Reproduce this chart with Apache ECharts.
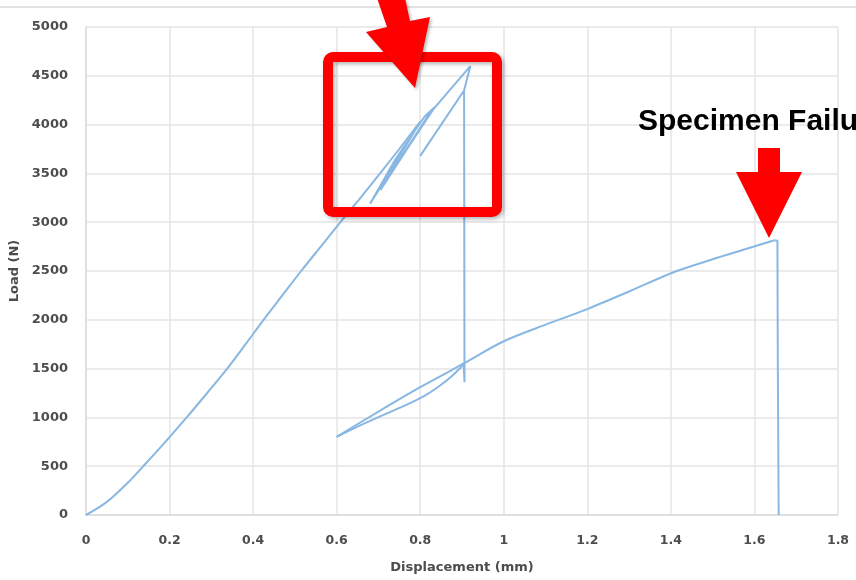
<!DOCTYPE html>
<html>
<head>
<meta charset="utf-8">
<script src="https://cdn.jsdelivr.net/npm/echarts@6/dist/echarts.min.js"></script>
<style>
html,body{margin:0;padding:0;background:#fff;}
#chart{width:856px;height:580px;}
</style>
</head>
<body>
<div id="chart"></div>
<script>
// Test record split into consecutive segments: displacement (mm) / load (N)
// 1. initial loading
var loadingDisp = [0, 0.03, 0.06, 0.10, 0.137, 0.19, 0.241, 0.29, 0.338, 0.382, 0.425, 0.47, 0.515, 0.562, 0.609, 0.655, 0.70, 0.75, 0.80];
var loadingLoad = [0, 75, 170, 330, 500, 750, 1000, 1250, 1500, 1750, 2000, 2250, 2500, 2750, 3000, 3240, 3480, 3750, 4030];
// 2. unload/reload cycles, peak and first failure drop
var cycleDisp = [0.80, 0.74, 0.68, 0.74, 0.81, 0.835, 0.77, 0.705, 0.76, 0.82, 0.87, 0.92, 0.923, 0.905, 0.80, 0.905, 0.906, 0.904];
var cycleLoad = [4030, 3600, 3190, 3640, 4080, 4180, 3760, 3330, 3700, 4100, 4350, 4600, 4590, 4350, 3680, 4350, 1360, 1545];
// 3. unloading after the drop
var unloadDisp = [0.904, 0.88, 0.85, 0.808, 0.76, 0.712, 0.65, 0.60];
var unloadLoad = [1545, 1440, 1335, 1215, 1115, 1025, 905, 800];
// 4. reloading up to final failure
var reloadDisp = [0.60, 0.70, 0.80, 0.873, 0.905, 1.0, 1.1, 1.2, 1.3, 1.408, 1.5, 1.568, 1.648];
var reloadLoad = [800, 1060, 1310, 1480, 1555, 1780, 1950, 2110, 2290, 2490, 2620, 2710, 2815];
// 5. specimen failure
var failDisp = [1.648, 1.655, 1.656, 1.658];
var failLoad = [2815, 2810, 1500, 0];

var xTicks = [0, 0.2, 0.4, 0.6, 0.8, 1, 1.2, 1.4, 1.6, 1.8];
var yTicks = [0, 500, 1000, 1500, 2000, 2500, 3000, 3500, 4000, 4500, 5000];
var xLabel = 'Displacement (mm)';
var yLabel = 'Load (N)';
var annotation = 'Specimen Failure';

function pairs(xs, ys) { return xs.map(function (d, i) { return [d, ys[i]]; }); }
var segments = [
  {d: pairs(loadingDisp, loadingLoad), smooth: 0.3},
  {d: pairs(cycleDisp, cycleLoad), smooth: false},
  {d: pairs(unloadDisp, unloadLoad), smooth: 0.3},
  {d: pairs(reloadDisp, reloadLoad), smooth: 0.3},
  {d: pairs(failDisp, failLoad), smooth: false}
];

var chart = echarts.init(document.getElementById('chart'), null, {renderer: 'canvas'});
var labelFont = {fontFamily: 'DejaVu Sans', fontWeight: 'bold', color: '#4d4d4d'};
chart.setOption({
  animation: false,
  backgroundColor: '#ffffff',
  grid: {left: 86, right: 18, top: 27, bottom: 65, containLabel: false, outerBoundsMode: 'none'},
  xAxis: {
    type: 'value', min: xTicks[0], max: xTicks[xTicks.length - 1], interval: 0.2,
    name: xLabel, nameLocation: 'middle', nameGap: 46,
    nameTextStyle: Object.assign({fontSize: 13}, labelFont),
    axisLine: {show: true, lineStyle: {color: '#dcdcdc', width: 1.5}},
    axisTick: {show: false},
    axisLabel: Object.assign({fontSize: 12.5, margin: 19, formatter: function (v) { return String(Math.round(v * 10) / 10); }}, labelFont),
    splitLine: {show: true, lineStyle: {color: '#e4e4e4', width: 1.5}}
  },
  yAxis: {
    type: 'value', min: yTicks[0], max: yTicks[yTicks.length - 1], interval: 500,
    name: yLabel, nameLocation: 'middle', nameGap: 64,
    nameTextStyle: Object.assign({fontSize: 13}, labelFont),
    axisLine: {show: true, lineStyle: {color: '#dcdcdc', width: 1.5}},
    axisTick: {show: false},
    axisLabel: Object.assign({fontSize: 13, margin: 18, formatter: function (v) { return String(v); }}, labelFont),
    splitLine: {show: true, lineStyle: {color: '#e4e4e4', width: 1.5}}
  },
  series: segments.map(function (s) {
    return {
      type: 'line', data: s.d, symbol: 'none', smooth: s.smooth,
      lineStyle: {color: '#88b7e3', width: 2}
    };
  }),
  graphic: [
    {type: 'line', shape: {x1: 0, y1: 7, x2: 856, y2: 7}, style: {stroke: '#e2e2e2', lineWidth: 2}, z: 10},
    {type: 'rect', shape: {x: 328, y: 57, width: 169, height: 155, r: 5},
     style: {fill: 'none', stroke: '#ff0000', lineWidth: 10, shadowBlur: 4, shadowColor: 'rgba(0,0,0,0.3)', shadowOffsetX: 2, shadowOffsetY: 2}, z: 100},
    {type: 'polygon', shape: {points: [[377, -2], [405, -2], [410, 21], [430, 17], [415, 88], [366, 32], [387, 27]]},
     style: {fill: '#ff0000', shadowBlur: 3, shadowColor: 'rgba(0,0,0,0.25)', shadowOffsetX: 2, shadowOffsetY: 2}, z: 101},
    {type: 'polygon', shape: {points: [[758, 148], [780, 148], [780, 172], [802, 172], [769, 238], [736, 172], [758, 172]]},
     style: {fill: '#ff0000'}, z: 101},
    {type: 'text', x: 638, y: 122,
     style: {text: annotation, font: 'bold 30px "Liberation Sans", Arial, sans-serif', fill: '#000000', verticalAlign: 'middle', align: 'left'}, z: 102}
  ]
});
</script>
</body>
</html>
